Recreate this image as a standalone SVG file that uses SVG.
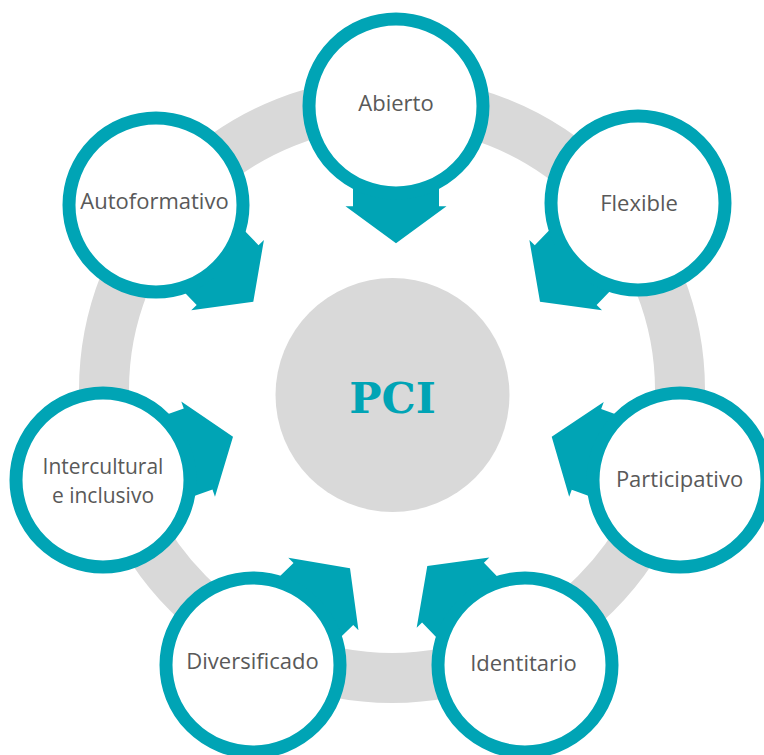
<svg xmlns="http://www.w3.org/2000/svg" width="764" height="755" viewBox="0 0 764 755">
  <defs>
    <style>
      .ring { fill: none; stroke: #D9D9D9; stroke-width: 50; }
      .hub { fill: #D9D9D9; }
      .arrow { fill: #00A4B5; }
      .node { fill: #FFFFFF; stroke: #00A4B5; stroke-width: 13; }
      .lbl { font-family: "Open Sans", "Liberation Sans", sans-serif; font-size: 22px; fill: #595959; text-anchor: middle; }
      .lbl2 { font-size: 21px; }
      .pci { font-family: "DejaVu Serif", "Liberation Serif", serif; font-weight: bold; font-size: 43px; fill: #00A4B5; text-anchor: middle; }
    </style>
    <polygon id="arr" points="0,0 -50.5,-37 -43,-37 -43,-130 43,-130 43,-37 50.5,-37"/>
  </defs>
  <rect width="764" height="755" fill="#FFFFFF"/>
  <circle class="ring" cx="392" cy="390" r="288"/>
  <g id="pci">
    <circle class="hub" cx="392.5" cy="395" r="117"/>
    <text class="pci" x="392.5" y="412.5">PCI</text>
  </g>
  <g id="connectors">
    <use href="#arr" class="arrow" transform="translate(396,243.3)"/>
    <use href="#arr" class="arrow" transform="translate(540,301.7) rotate(44)"/>
    <use href="#arr" class="arrow" transform="translate(551.7,436.7) rotate(110)"/>
    <use href="#arr" class="arrow" transform="translate(427.3,566) rotate(136)"/>
    <use href="#arr" class="arrow" transform="translate(350,568.3) rotate(-134)"/>
    <use href="#arr" class="arrow" transform="translate(233,436.7) rotate(-109.5)"/>
    <use href="#arr" class="arrow" transform="translate(253.3,301.7) rotate(-44)"/>
  </g>
  <g id="abierto">
    <circle class="node" cx="396" cy="106" r="87"/>
    <text class="lbl" x="396" y="111">Abierto</text>
  </g>
  <g id="flexible">
    <circle class="node" cx="638" cy="203" r="87"/>
    <text class="lbl" x="639" y="211">Flexible</text>
  </g>
  <g id="participativo">
    <circle class="node" cx="680" cy="480" r="87"/>
    <text class="lbl" x="679.5" y="486.5">Participativo</text>
  </g>
  <g id="identitario">
    <circle class="node" cx="525" cy="665" r="87"/>
    <text class="lbl" x="523.5" y="671">Identitario</text>
  </g>
  <g id="diversificado">
    <circle class="node" cx="253" cy="665" r="87"/>
    <text class="lbl" x="252.5" y="668.5">Diversificado</text>
  </g>
  <g id="intercultural">
    <circle class="node" cx="103" cy="480" r="87"/>
    <text class="lbl lbl2" x="103" y="474">Intercultural</text>
    <text class="lbl lbl2" x="103" y="503">e inclusivo</text>
  </g>
  <g id="autoformativo">
    <circle class="node" cx="156" cy="205" r="87"/>
    <text class="lbl" x="154.5" y="209">Autoformativo</text>
  </g>
</svg>
